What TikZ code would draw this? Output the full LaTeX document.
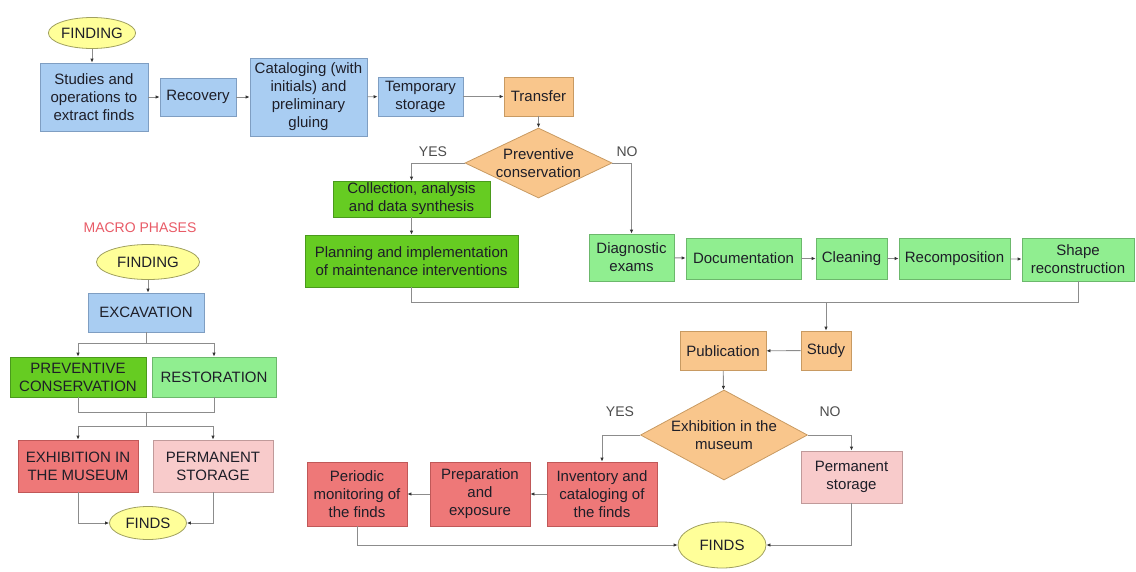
\documentclass[tikz,border=0pt]{standalone}
\usepackage{fontspec}
\setmainfont{Liberation Sans}
\usetikzlibrary{shapes.geometric,arrows.meta}
\definecolor{bluef}{HTML}{A9CDF2}
\definecolor{blued}{HTML}{7F9EC2}
\definecolor{orf}{HTML}{F9C68C}
\definecolor{ord}{HTML}{C89A62}
\definecolor{dgf}{HTML}{66CC22}
\definecolor{dgd}{HTML}{4A9A1C}
\definecolor{lgf}{HTML}{90EE90}
\definecolor{lgd}{HTML}{6CB86C}
\definecolor{redf}{HTML}{EE7878}
\definecolor{redd}{HTML}{C05858}
\definecolor{pinkf}{HTML}{F8CBCB}
\definecolor{pinkd}{HTML}{C09A9A}
\definecolor{yelf}{HTML}{FFFF99}
\definecolor{yeld}{HTML}{A0A060}
\definecolor{txt}{HTML}{1E1E28}
\definecolor{linec}{HTML}{8C8C8C}
\definecolor{macro}{HTML}{E85A66}
\begin{document}
\begin{tikzpicture}[x=1pt,y=-1pt,
  base/.style={line width=0.8pt, inner sep=1pt, align=center, text=txt,
    font=\fontsize{15}{18}\selectfont},
  bluebox/.style={base, rectangle, draw=blued, fill=bluef},
  orangebox/.style={base, rectangle, draw=ord, fill=orf},
  dgreenbox/.style={base, rectangle, draw=dgd, fill=dgf},
  lgreenbox/.style={base, rectangle, draw=lgd, fill=lgf},
  redbox/.style={base, rectangle, draw=redd, fill=redf},
  pinkbox/.style={base, rectangle, draw=pinkd, fill=pinkf},
  ovalnode/.style={base, ellipse, draw=yeld, fill=yelf, inner sep=0pt},
  decision/.style={base, diamond, draw=ord, fill=orf, inner sep=-4pt},
  answer/.style={text=black!70, font=\fontsize{14}{16}\selectfont},
  conn/.style={draw=linec, line width=0.9pt},
  arr/.style={conn, -{Latex[length=4pt,width=3.5pt,color=black!80]}}
]
\useasboundingbox (0,0) rectangle (1136,571);

% ---------- main flow ----------
\node[ovalnode, minimum width=80pt, minimum height=31pt] (finding) at (92,33) {FINDING};
\node[bluebox, minimum width=108pt, minimum height=68pt] (studies) at (94,97) {Studies and\\operations to\\extract finds};
\node[bluebox, minimum width=76pt, minimum height=38pt] (recovery) at (198,97) {Recovery};
\node[bluebox, minimum width=117pt, minimum height=78pt] (catal) at (308.5,97) {Cataloging (with\\initials) and\\preliminary\\gluing};
\node[bluebox, minimum width=85pt, minimum height=39pt] (temp) at (420.5,96.5) {Temporary\\storage};
\node[orangebox, minimum width=69pt, minimum height=39pt] (transfer) at (538.5,96.5) {Transfer};

\node[decision, aspect=2.1, minimum width=147pt, minimum height=70pt] (pc) at (538.5,163) {Preventive\\conservation};
\node[answer] (yes1) at (433,152) {YES};
\node[answer] (no1) at (627,152) {NO};

\node[dgreenbox, minimum width=157pt, minimum height=36pt] (collect) at (411.5,199) {Collection, analysis\\and data synthesis};
\node[dgreenbox, minimum width=213pt, minimum height=52pt] (planning) at (411.5,261) {Planning and implementation\\of maintenance interventions};

\node[lgreenbox, minimum width=85pt, minimum height=47pt] (diag) at (631.5,257.5) {Diagnostic\\exams};
\node[lgreenbox, minimum width=115pt, minimum height=41pt] (docu) at (743.5,258.5) {Documentation};
\node[lgreenbox, minimum width=71pt, minimum height=41pt] (clean) at (851.5,258.5) {Cleaning};
\node[lgreenbox, minimum width=111pt, minimum height=41pt] (recomp) at (954.5,258.5) {Recomposition};
\node[lgreenbox, minimum width=112pt, minimum height=43pt] (shape) at (1078,259.5) {Shape\\reconstruction};

\node[orangebox, minimum width=50pt, minimum height=39pt] (study) at (826,350.5) {Study};
\node[orangebox, minimum width=86pt, minimum height=39pt] (publi) at (723,351) {Publication};

\node[decision, aspect=1.86, minimum width=167pt, minimum height=90pt] (exq) at (724,435) {Exhibition in the\\museum};
\node[answer] (yes2) at (620,412) {YES};
\node[answer] (no2) at (830,412) {NO};

\node[redbox, minimum width=110pt, minimum height=64pt] (invent) at (602,494) {Inventory and\\cataloging of\\the finds};
\node[redbox, minimum width=100pt, minimum height=64pt] (prep) at (480,494) {Preparation\\and\\exposure};
\node[redbox, minimum width=100pt, minimum height=64pt] (period) at (357,494) {Periodic\\monitoring of\\the finds};
\node[pinkbox, minimum width=101pt, minimum height=52pt] (perm) at (851.5,477) {Permanent\\storage};
\node[ovalnode, minimum width=88pt, minimum height=46pt] (finds) at (722,545) {FINDS};

\coordinate (mergeL) at (411.5,302);
\coordinate (mergeJ) at (826,302);

\draw[arr] (finding.south) -- (finding.south |- studies.north);
\draw[arr] (studies) -- (recovery);
\draw[arr] (recovery) -- (catal);
\draw[arr] (catal) -- (temp);
\draw[arr] (temp) -- (transfer);
\draw[arr] (transfer) -- (pc);
\draw[arr] (pc.west) -| (collect.north);
\draw[arr] (pc.east) -| (diag.north);
\draw[arr] (collect) -- (planning);
\draw[arr] (diag) -- (docu);
\draw[arr] (docu) -- (clean);
\draw[arr] (clean) -- (recomp);
\draw[arr] (recomp) -- (shape);
\draw[conn] (planning.south) -- (mergeL) -| (shape.south);
\draw[arr] (mergeJ) -- (study.north);
\draw[arr] (study) -- (publi);
\draw[arr] (publi) -- (exq);
\draw[arr] (exq.west) -| (invent.north);
\draw[arr] (exq.east) -| (perm.north);
\draw[arr] (invent) -- (prep);
\draw[arr] (prep) -- (period);
\draw[arr] (period.south) |- (finds.west);
\draw[arr] (perm.south) |- (finds.east);

% ---------- macro phases ----------
\node[text=macro, font=\fontsize{14}{16}\selectfont] (mtitle) at (140,228) {MACRO PHASES};
\node[ovalnode, minimum width=103pt, minimum height=35pt] (lfinding) at (148,262) {FINDING};
\node[bluebox, minimum width=116pt, minimum height=39pt] (excav) at (146,312.5) {EXCAVATION};
\node[dgreenbox, minimum width=136pt, minimum height=40pt] (lprev) at (78,377) {PREVENTIVE\\CONSERVATION};
\node[lgreenbox, minimum width=124pt, minimum height=40pt] (lrest) at (214,377) {RESTORATION};
\node[redbox, minimum width=120pt, minimum height=52pt] (lexhib) at (78,466) {EXHIBITION IN\\THE MUSEUM};
\node[pinkbox, minimum width=120pt, minimum height=52pt] (lperm) at (213,466) {PERMANENT\\STORAGE};
\node[ovalnode, minimum width=77pt, minimum height=33pt] (lfinds) at (148,523) {FINDS};

\coordinate (split1) at (146,343);
\coordinate (join1) at (146,412);
\coordinate (split2) at (146,426);

\draw[arr] (lfinding) -- (lfinding |- excav.north);
\draw[conn] (excav.south) -- (split1);
\draw[arr] (split1) -| (lprev.north);
\draw[arr] (split1) -| (lrest.north);
\draw[conn] (lprev.south) |- (join1);
\draw[conn] (lrest.south) |- (join1);
\draw[conn] (join1) -- (split2);
\draw[arr] (split2) -| (lexhib.north);
\draw[arr] (split2) -| (lperm.north);
\draw[arr] (lexhib.south) |- (lfinds.west);
\draw[arr] (lperm.south) |- (lfinds.east);
\end{tikzpicture}
\end{document}
